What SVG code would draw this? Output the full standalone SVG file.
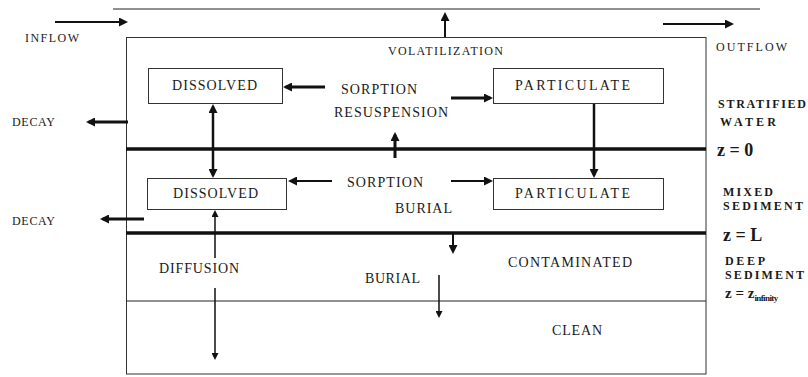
<svg xmlns="http://www.w3.org/2000/svg" width="808" height="377" viewBox="0 0 808 377">
<style>
text{font-family:"Liberation Serif","Times New Roman","DejaVu Serif",serif;fill:#1a1a1a}
.lbl{font-size:14px}
.sm{font-size:12px}
.bd{font-size:12px;font-weight:bold}
.zz{font-size:18px;font-weight:bold}
.box{fill:#fff;stroke:#333;stroke-width:1}
.thin{stroke:#222;stroke-width:1;fill:none}
.thick{stroke:#111;stroke-width:3.5;fill:none}
.a{stroke:#111;fill:none}
</style>
<defs>
<marker id="ah" viewBox="0 0 10 10" refX="7" refY="5" markerWidth="9" markerHeight="9" markerUnits="userSpaceOnUse" orient="auto-start-reverse"><path d="M0,0L10,5L0,10z" fill="#111"/></marker>
<marker id="ahs" viewBox="0 0 10 10" refX="7" refY="5" markerWidth="7" markerHeight="7" markerUnits="userSpaceOnUse" orient="auto-start-reverse"><path d="M0,0L10,5L0,10z" fill="#111"/></marker>
</defs>
<rect width="808" height="377" fill="#fff"/>
<g id="frame">
<line class="thin" x1="113" y1="9" x2="760" y2="9"/>
<rect class="box" x="126.5" y="37.5" width="579.5" height="336.5" fill="none"/>
<line class="thick" x1="126" y1="149" x2="706" y2="149"/>
<line class="thick" x1="126" y1="233" x2="706" y2="233"/>
<line class="thin" x1="126" y1="301" x2="706" y2="301"/>
</g>
<g id="dissolved-water"><rect class="box" x="148.5" y="68.5" width="134" height="35"/><text class="lbl" x="172" y="90" textLength="85" lengthAdjust="spacing">DISSOLVED</text></g>
<g id="particulate-water"><rect class="box" x="493.5" y="68.5" width="170" height="35"/><text class="lbl" x="515" y="90" textLength="115" lengthAdjust="spacing">PARTICULATE</text></g>
<g id="dissolved-sediment"><rect class="box" x="147.5" y="178.5" width="139" height="31"/><text class="lbl" x="173" y="198" textLength="85" lengthAdjust="spacing">DISSOLVED</text></g>
<g id="particulate-sediment"><rect class="box" x="493.5" y="178.5" width="170" height="31"/><text class="lbl" x="515" y="198" textLength="115" lengthAdjust="spacing">PARTICULATE</text></g>
<g id="connectors">
<line class="a" stroke-width="2" x1="55" y1="22" x2="125.3" y2="22" marker-end="url(#ah)"/>
<line class="a" stroke-width="2" x1="663" y1="24" x2="731.3" y2="24" marker-end="url(#ah)"/>
<line class="a" stroke-width="2" x1="445" y1="37" x2="445" y2="14.7" marker-end="url(#ah)"/>
<line class="a" stroke-width="3" x1="128" y1="122" x2="88.7" y2="122" marker-end="url(#ah)"/>
<line class="a" stroke-width="3" x1="325" y1="87" x2="285.7" y2="87" marker-end="url(#ah)"/>
<line class="a" stroke-width="3" x1="451" y1="98" x2="490.3" y2="98" marker-end="url(#ah)"/>
<line class="a" stroke-width="2.5" x1="213" y1="106.7" x2="213" y2="175.3" marker-start="url(#ah)" marker-end="url(#ah)"/>
<line class="a" stroke-width="2.5" x1="594" y1="104" x2="594" y2="175.3" marker-end="url(#ah)"/>
<line class="a" stroke-width="3" x1="395" y1="158" x2="395" y2="134.7" marker-end="url(#ah)"/>
<line class="a" stroke-width="2" x1="332" y1="181" x2="290.7" y2="181" marker-end="url(#ah)"/>
<line class="a" stroke-width="2" x1="451" y1="181" x2="490.3" y2="181" marker-end="url(#ah)"/>
<line class="a" stroke-width="3" x1="144" y1="219" x2="102.7" y2="219" marker-end="url(#ah)"/>
<line class="a" stroke-width="1.5" x1="215" y1="258" x2="215" y2="212.1" marker-end="url(#ahs)"/>
<line class="a" stroke-width="1.5" x1="215" y1="288" x2="215" y2="357.9" marker-end="url(#ahs)"/>
<line class="a" stroke-width="2" x1="453" y1="233" x2="453" y2="251.3" marker-end="url(#ah)"/>
<line class="a" stroke-width="1.5" x1="439" y1="275" x2="439" y2="315.9" marker-end="url(#ahs)"/>
</g>
<g id="labels">
<text class="sm" x="25" y="42" textLength="54" lengthAdjust="spacing">INFLOW</text>
<text class="sm" x="388" y="55" textLength="115" lengthAdjust="spacing">VOLATILIZATION</text>
<text class="sm" x="716" y="51" textLength="71" lengthAdjust="spacing">OUTFLOW</text>
<text class="sm" x="12" y="126" textLength="43" lengthAdjust="spacing">DECAY</text>
<text class="sm" x="12" y="225" textLength="43" lengthAdjust="spacing">DECAY</text>
<text class="lbl" x="341" y="94" textLength="76" lengthAdjust="spacing">SORPTION</text>
<text class="lbl" x="334" y="117" textLength="114" lengthAdjust="spacing">RESUSPENSION</text>
<text class="lbl" x="347" y="187" textLength="76" lengthAdjust="spacing">SORPTION</text>
<text class="lbl" x="395" y="213" textLength="57" lengthAdjust="spacing">BURIAL</text>
<text class="lbl" x="159" y="273" textLength="80" lengthAdjust="spacing">DIFFUSION</text>
<text class="lbl" x="508" y="267" textLength="124" lengthAdjust="spacing">CONTAMINATED</text>
<text class="lbl" x="365" y="283" textLength="55" lengthAdjust="spacing">BURIAL</text>
<text class="lbl" x="552" y="335" textLength="50" lengthAdjust="spacing">CLEAN</text>
<text class="bd" x="718" y="108" textLength="88" lengthAdjust="spacing">STRATIFIED</text>
<text class="bd" x="720" y="126" textLength="56" lengthAdjust="spacing">WATER</text>
<text class="zz" x="717" y="156">z = 0</text>
<text class="bd" x="723" y="196" textLength="50" lengthAdjust="spacing">MIXED</text>
<text class="bd" x="723" y="210" textLength="80" lengthAdjust="spacing">SEDIMENT</text>
<text class="zz" x="723" y="241">z = L</text>
<text class="bd" x="725" y="265" textLength="40" lengthAdjust="spacing">DEEP</text>
<text class="bd" x="725" y="279" textLength="79" lengthAdjust="spacing">SEDIMENT</text>
<text class="zz" x="725" y="298" style="font-size:15px">z = z<tspan style="font-size:9px" dy="3" letter-spacing="-0.6">infinity</tspan></text>
</g>
</svg>
